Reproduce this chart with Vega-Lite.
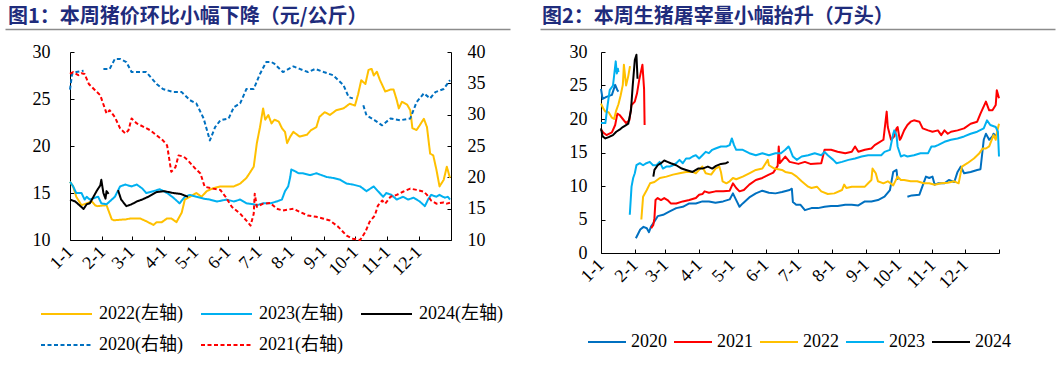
{
 "$schema": "https://vega.github.io/schema/vega-lite/v6.json",
 "background": "white",
 "padding": {"left": 5, "top": 6, "right": 0, "bottom": 0},
 "spacing": -35,
 "resolve": {"scale": {"color": "independent", "strokeDash": "independent", "strokeWidth": "independent"}, "legend": {"color": "independent", "strokeDash": "independent", "strokeWidth": "independent"}},
 "config": {
  "view": {"stroke": null},
  "font": "Liberation Serif",
  "axis": {"grid": false, "title": null, "domainColor": "#000", "domainWidth": 1, "tickColor": "#000", "tickWidth": 1, "tickSize": -4, "labelColor": "#000", "labelFont": "Liberation Serif", "labelFontSize": 18, "labelOverlap": false},
  "legend": {"title": null, "labelFont": "Liberation Serif, Noto Sans CJK SC", "labelFontSize": 18, "labelColor": "#000"},
  "line": {"strokeJoin": "round"}
 },
 "datasets": {
  "price": [
   {"series":"2022(左轴)","day":0,"value":16.2},{"series":"2022(左轴)","day":3,"value":15.7},{"series":"2022(左轴)","day":6,"value":14.6},{"series":"2022(左轴)","day":11,"value":13.7},{"series":"2022(左轴)","day":16,"value":13.9},{"series":"2022(左轴)","day":21,"value":14.1},{"series":"2022(左轴)","day":24,"value":13.7},{"series":"2022(左轴)","day":26,"value":13.6},{"series":"2022(左轴)","day":35,"value":13.7},{"series":"2022(左轴)","day":40,"value":12.2},{"series":"2022(左轴)","day":42,"value":12.1},{"series":"2022(左轴)","day":54,"value":12.2},{"series":"2022(左轴)","day":58,"value":12.3},{"series":"2022(左轴)","day":67,"value":12.3},{"series":"2022(左轴)","day":73,"value":12.0},{"series":"2022(左轴)","day":80,"value":11.6},{"series":"2022(左轴)","day":83,"value":11.9},{"series":"2022(左轴)","day":88,"value":11.9},{"series":"2022(左轴)","day":93,"value":12.3},{"series":"2022(左轴)","day":97,"value":12.3},{"series":"2022(左轴)","day":102,"value":11.9},{"series":"2022(左轴)","day":107,"value":12.9},{"series":"2022(左轴)","day":110,"value":14.3},{"series":"2022(左轴)","day":115,"value":14.6},{"series":"2022(左轴)","day":121,"value":15.0},{"series":"2022(左轴)","day":126,"value":14.6},{"series":"2022(左轴)","day":131,"value":15.2},{"series":"2022(左轴)","day":137,"value":15.5},{"series":"2022(左轴)","day":144,"value":15.7},{"series":"2022(左轴)","day":150,"value":15.7},{"series":"2022(左轴)","day":157,"value":15.7},{"series":"2022(左轴)","day":163,"value":16.0},{"series":"2022(左轴)","day":169,"value":16.6},{"series":"2022(左轴)","day":172,"value":17.1},{"series":"2022(左轴)","day":176,"value":17.8},{"series":"2022(左轴)","day":179,"value":20.3},{"series":"2022(左轴)","day":182,"value":22.0},{"series":"2022(左轴)","day":185,"value":24.0},{"series":"2022(左轴)","day":187,"value":22.8},{"series":"2022(左轴)","day":190,"value":23.3},{"series":"2022(左轴)","day":193,"value":22.4},{"series":"2022(左轴)","day":196,"value":22.8},{"series":"2022(左轴)","day":200,"value":22.6},{"series":"2022(左轴)","day":203,"value":21.9},{"series":"2022(左轴)","day":206,"value":21.5},{"series":"2022(左轴)","day":208,"value":20.3},{"series":"2022(左轴)","day":211,"value":21.0},{"series":"2022(左轴)","day":214,"value":21.5},{"series":"2022(左轴)","day":220,"value":21.0},{"series":"2022(左轴)","day":227,"value":21.2},{"series":"2022(左轴)","day":231,"value":21.7},{"series":"2022(左轴)","day":236,"value":22.0},{"series":"2022(左轴)","day":239,"value":23.1},{"series":"2022(左轴)","day":244,"value":23.6},{"series":"2022(左轴)","day":249,"value":23.3},{"series":"2022(左轴)","day":255,"value":23.8},{"series":"2022(左轴)","day":262,"value":24.0},{"series":"2022(左轴)","day":268,"value":24.5},{"series":"2022(左轴)","day":273,"value":24.3},{"series":"2022(左轴)","day":276,"value":25.5},{"series":"2022(左轴)","day":279,"value":27.0},{"series":"2022(左轴)","day":283,"value":26.6},{"series":"2022(左轴)","day":286,"value":28.1},{"series":"2022(左轴)","day":289,"value":28.2},{"series":"2022(左轴)","day":291,"value":27.5},{"series":"2022(左轴)","day":294,"value":27.9},{"series":"2022(左轴)","day":297,"value":27.0},{"series":"2022(左轴)","day":302,"value":25.8},{"series":"2022(左轴)","day":307,"value":26.0},{"series":"2022(左轴)","day":310,"value":26.0},{"series":"2022(左轴)","day":313,"value":24.9},{"series":"2022(左轴)","day":315,"value":24.0},{"series":"2022(左轴)","day":318,"value":24.7},{"series":"2022(左轴)","day":323,"value":24.4},{"series":"2022(左轴)","day":326,"value":23.8},{"series":"2022(左轴)","day":328,"value":21.9},{"series":"2022(左轴)","day":332,"value":21.7},{"series":"2022(左轴)","day":335,"value":22.2},{"series":"2022(左轴)","day":339,"value":22.9},{"series":"2022(左轴)","day":342,"value":22.0},{"series":"2022(左轴)","day":345,"value":19.2},{"series":"2022(左轴)","day":348,"value":19.0},{"series":"2022(左轴)","day":351,"value":17.5},{"series":"2022(左轴)","day":354,"value":15.7},{"series":"2022(左轴)","day":358,"value":16.4},{"series":"2022(左轴)","day":361,"value":17.8},{"series":"2022(左轴)","day":364,"value":16.6},
   {"series":"2023(左轴)","day":0,"value":16.2},{"series":"2023(左轴)","day":3,"value":15.7},{"series":"2023(左轴)","day":6,"value":15.0},{"series":"2023(左轴)","day":11,"value":15.0},{"series":"2023(左轴)","day":14,"value":14.3},{"series":"2023(左轴)","day":16,"value":14.6},{"series":"2023(左轴)","day":19,"value":14.3},{"series":"2023(左轴)","day":24,"value":14.5},{"series":"2023(左轴)","day":27,"value":14.6},{"series":"2023(左轴)","day":30,"value":13.9},{"series":"2023(左轴)","day":35,"value":13.8},{"series":"2023(左轴)","day":40,"value":14.3},{"series":"2023(左轴)","day":43,"value":14.6},{"series":"2023(左轴)","day":48,"value":15.7},{"series":"2023(左轴)","day":53,"value":15.9},{"series":"2023(左轴)","day":59,"value":15.7},{"series":"2023(左轴)","day":64,"value":15.9},{"series":"2023(左轴)","day":69,"value":15.5},{"series":"2023(左轴)","day":73,"value":15.0},{"series":"2023(左轴)","day":80,"value":15.2},{"series":"2023(左轴)","day":86,"value":15.4},{"series":"2023(左轴)","day":93,"value":15.0},{"series":"2023(左轴)","day":99,"value":14.5},{"series":"2023(左轴)","day":105,"value":13.9},{"series":"2023(左轴)","day":110,"value":14.6},{"series":"2023(左轴)","day":115,"value":14.8},{"series":"2023(左轴)","day":121,"value":14.6},{"series":"2023(左轴)","day":128,"value":14.4},{"series":"2023(左轴)","day":134,"value":14.3},{"series":"2023(左轴)","day":141,"value":14.1},{"series":"2023(左轴)","day":150,"value":14.3},{"series":"2023(左轴)","day":157,"value":14.1},{"series":"2023(左轴)","day":163,"value":14.3},{"series":"2023(左轴)","day":169,"value":13.9},{"series":"2023(左轴)","day":176,"value":13.8},{"series":"2023(左轴)","day":179,"value":13.7},{"series":"2023(左轴)","day":185,"value":13.9},{"series":"2023(左轴)","day":192,"value":13.9},{"series":"2023(左轴)","day":198,"value":14.1},{"series":"2023(左轴)","day":203,"value":14.3},{"series":"2023(左轴)","day":206,"value":15.2},{"series":"2023(左轴)","day":209,"value":15.7},{"series":"2023(左轴)","day":211,"value":16.7},{"series":"2023(左轴)","day":212,"value":17.5},{"series":"2023(左轴)","day":216,"value":17.3},{"series":"2023(左轴)","day":219,"value":17.1},{"series":"2023(左轴)","day":223,"value":17.1},{"series":"2023(左轴)","day":230,"value":16.9},{"series":"2023(左轴)","day":236,"value":17.1},{"series":"2023(左轴)","day":241,"value":16.9},{"series":"2023(左轴)","day":246,"value":16.7},{"series":"2023(左轴)","day":252,"value":16.6},{"series":"2023(左轴)","day":259,"value":16.4},{"series":"2023(左轴)","day":265,"value":16.0},{"series":"2023(左轴)","day":271,"value":15.9},{"series":"2023(左轴)","day":278,"value":15.7},{"series":"2023(左轴)","day":284,"value":15.2},{"series":"2023(左轴)","day":291,"value":15.7},{"series":"2023(左轴)","day":295,"value":15.2},{"series":"2023(左轴)","day":300,"value":14.6},{"series":"2023(左轴)","day":303,"value":15.0},{"series":"2023(左轴)","day":308,"value":14.8},{"series":"2023(左轴)","day":313,"value":14.3},{"series":"2023(左轴)","day":319,"value":14.6},{"series":"2023(左轴)","day":324,"value":14.3},{"series":"2023(左轴)","day":329,"value":14.5},{"series":"2023(左轴)","day":335,"value":14.1},{"series":"2023(左轴)","day":340,"value":13.6},{"series":"2023(左轴)","day":343,"value":14.3},{"series":"2023(左轴)","day":346,"value":14.8},{"series":"2023(左轴)","day":351,"value":14.6},{"series":"2023(左轴)","day":354,"value":14.8},{"series":"2023(左轴)","day":359,"value":14.5},{"series":"2023(左轴)","day":362,"value":14.6},{"series":"2023(左轴)","day":364,"value":14.3},
   {"series":"2024(左轴)","day":0,"value":14.3},{"series":"2024(左轴)","day":5,"value":14.1},{"series":"2024(左轴)","day":10,"value":13.6},{"series":"2024(左轴)","day":13,"value":13.3},{"series":"2024(左轴)","day":16,"value":13.8},{"series":"2024(左轴)","day":19,"value":13.9},{"series":"2024(左轴)","day":22,"value":14.5},{"series":"2024(左轴)","day":26,"value":15.3},{"series":"2024(左轴)","day":29,"value":15.8},{"series":"2024(左轴)","day":30,"value":16.4},{"series":"2024(左轴)","day":32,"value":15.0},{"series":"2024(左轴)","day":34,"value":14.4},{"series":"2024(左轴)","day":35,"value":15.2},{"series":"2024(左轴)","day":37,"value":14.9},{"series":"2024(左轴)","day":41,"value":null},{"series":"2024(左轴)","day":46,"value":15.3},{"series":"2024(左轴)","day":49,"value":14.3},{"series":"2024(左轴)","day":54,"value":13.6},{"series":"2024(左轴)","day":59,"value":13.8},{"series":"2024(左轴)","day":64,"value":14.1},{"series":"2024(左轴)","day":69,"value":14.3},{"series":"2024(左轴)","day":75,"value":14.6},{"series":"2024(左轴)","day":83,"value":15.1},{"series":"2024(左轴)","day":90,"value":15.2},{"series":"2024(左轴)","day":99,"value":15.0},{"series":"2024(左轴)","day":106,"value":14.9},{"series":"2024(左轴)","day":113,"value":14.6},
   {"series":"2020(右轴)","day":0,"value":34.0},{"series":"2020(右轴)","day":2,"value":36.5},{"series":"2020(右轴)","day":6,"value":36.8},{"series":"2020(右轴)","day":13,"value":37.0},{"series":"2020(右轴)","day":22,"value":null},{"series":"2020(右轴)","day":32,"value":37.3},{"series":"2020(右轴)","day":38,"value":37.3},{"series":"2020(右轴)","day":43,"value":38.9},{"series":"2020(右轴)","day":48,"value":38.9},{"series":"2020(右轴)","day":54,"value":38.4},{"series":"2020(右轴)","day":59,"value":36.8},{"series":"2020(右轴)","day":64,"value":36.8},{"series":"2020(右轴)","day":73,"value":36.8},{"series":"2020(右轴)","day":83,"value":34.9},{"series":"2020(右轴)","day":89,"value":34.1},{"series":"2020(右轴)","day":99,"value":33.6},{"series":"2020(右轴)","day":107,"value":33.6},{"series":"2020(右轴)","day":115,"value":32.3},{"series":"2020(右轴)","day":121,"value":31.8},{"series":"2020(右轴)","day":128,"value":29.4},{"series":"2020(右轴)","day":134,"value":25.9},{"series":"2020(右轴)","day":139,"value":28.0},{"series":"2020(右轴)","day":144,"value":29.1},{"series":"2020(右轴)","day":152,"value":29.4},{"series":"2020(右轴)","day":157,"value":31.2},{"series":"2020(右轴)","day":163,"value":31.8},{"series":"2020(右轴)","day":169,"value":34.1},{"series":"2020(右轴)","day":176,"value":34.1},{"series":"2020(右轴)","day":182,"value":36.5},{"series":"2020(右轴)","day":188,"value":38.4},{"series":"2020(右轴)","day":193,"value":38.4},{"series":"2020(右轴)","day":196,"value":38.1},{"series":"2020(右轴)","day":204,"value":36.8},{"series":"2020(右轴)","day":214,"value":37.7},{"series":"2020(右轴)","day":220,"value":37.3},{"series":"2020(右轴)","day":228,"value":36.8},{"series":"2020(右轴)","day":235,"value":37.3},{"series":"2020(右轴)","day":243,"value":36.8},{"series":"2020(右轴)","day":252,"value":36.3},{"series":"2020(右轴)","day":262,"value":34.7},{"series":"2020(右轴)","day":267,"value":32.8},{"series":"2020(右轴)","day":271,"value":32.6},{"series":"2020(右轴)","day":276,"value":null},{"series":"2020(右轴)","day":281,"value":31.5},{"series":"2020(右轴)","day":284,"value":29.9},{"series":"2020(右轴)","day":292,"value":29.1},{"series":"2020(右轴)","day":299,"value":28.3},{"series":"2020(右轴)","day":307,"value":29.4},{"series":"2020(右轴)","day":316,"value":29.1},{"series":"2020(右轴)","day":326,"value":29.4},{"series":"2020(右轴)","day":332,"value":32.0},{"series":"2020(右轴)","day":339,"value":33.4},{"series":"2020(右轴)","day":345,"value":32.6},{"series":"2020(右轴)","day":350,"value":33.6},{"series":"2020(右轴)","day":358,"value":34.1},{"series":"2020(右轴)","day":364,"value":35.5},
   {"series":"2021(右轴)","day":0,"value":36.5},{"series":"2021(右轴)","day":3,"value":36.8},{"series":"2021(右轴)","day":8,"value":36.3},{"series":"2021(右轴)","day":11,"value":36.6},{"series":"2021(右轴)","day":14,"value":36.5},{"series":"2021(右轴)","day":18,"value":34.9},{"series":"2021(右轴)","day":24,"value":33.9},{"series":"2021(右轴)","day":29,"value":33.1},{"series":"2021(右轴)","day":35,"value":30.2},{"series":"2021(右轴)","day":38,"value":30.7},{"series":"2021(右轴)","day":43,"value":29.6},{"series":"2021(右轴)","day":48,"value":27.8},{"series":"2021(右轴)","day":53,"value":27.0},{"series":"2021(右轴)","day":56,"value":27.5},{"series":"2021(右轴)","day":59,"value":29.4},{"series":"2021(右轴)","day":64,"value":28.6},{"series":"2021(右轴)","day":70,"value":28.1},{"series":"2021(右轴)","day":77,"value":27.5},{"series":"2021(右轴)","day":83,"value":26.7},{"series":"2021(右轴)","day":89,"value":25.9},{"series":"2021(右轴)","day":93,"value":25.1},{"series":"2021(右轴)","day":97,"value":20.9},{"series":"2021(右轴)","day":101,"value":21.6},{"series":"2021(右轴)","day":104,"value":23.5},{"series":"2021(右轴)","day":109,"value":23.3},{"series":"2021(右轴)","day":113,"value":22.7},{"series":"2021(右轴)","day":120,"value":21.4},{"series":"2021(右轴)","day":125,"value":20.6},{"series":"2021(右轴)","day":129,"value":18.5},{"series":"2021(右轴)","day":137,"value":18.2},{"series":"2021(右轴)","day":144,"value":18.0},{"series":"2021(右轴)","day":149,"value":16.9},{"series":"2021(右轴)","day":155,"value":15.3},{"series":"2021(右轴)","day":163,"value":14.2},{"series":"2021(右轴)","day":169,"value":13.1},{"series":"2021(右轴)","day":173,"value":12.3},{"series":"2021(右轴)","day":176,"value":14.2},{"series":"2021(右轴)","day":177,"value":17.4},{"series":"2021(右轴)","day":179,"value":15.3},{"series":"2021(右轴)","day":185,"value":15.8},{"series":"2021(右轴)","day":192,"value":15.9},{"series":"2021(右轴)","day":198,"value":15.0},{"series":"2021(右轴)","day":204,"value":14.7},{"series":"2021(右轴)","day":214,"value":15.0},{"series":"2021(右轴)","day":220,"value":14.5},{"series":"2021(右轴)","day":228,"value":13.9},{"series":"2021(右轴)","day":236,"value":13.7},{"series":"2021(右轴)","day":243,"value":13.4},{"series":"2021(右轴)","day":249,"value":13.1},{"series":"2021(右轴)","day":257,"value":12.1},{"series":"2021(右轴)","day":265,"value":10.7},{"series":"2021(右轴)","day":271,"value":10.2},{"series":"2021(右轴)","day":278,"value":10.0},{"series":"2021(右轴)","day":283,"value":11.3},{"series":"2021(右轴)","day":287,"value":12.9},{"series":"2021(右轴)","day":292,"value":13.9},{"series":"2021(右轴)","day":295,"value":15.5},{"series":"2021(右轴)","day":299,"value":16.3},{"series":"2021(右轴)","day":302,"value":15.8},{"series":"2021(右轴)","day":307,"value":16.9},{"series":"2021(右轴)","day":313,"value":17.2},{"series":"2021(右轴)","day":319,"value":17.7},{"series":"2021(右轴)","day":326,"value":18.2},{"series":"2021(右轴)","day":332,"value":18.0},{"series":"2021(右轴)","day":339,"value":17.7},{"series":"2021(右轴)","day":342,"value":17.2},{"series":"2021(右轴)","day":346,"value":16.3},{"series":"2021(右轴)","day":351,"value":15.8},{"series":"2021(右轴)","day":358,"value":16.0},{"series":"2021(右轴)","day":361,"value":15.8},{"series":"2021(右轴)","day":365,"value":16.0}
  ],
  "slaughter": [
   {"series":"2020","day":0,"value":24.5},{"series":"2020","day":1.5,"value":23.0},{"series":"2020","day":5,"value":23.3},{"series":"2020","day":10,"value":23.6},{"series":"2020","day":13,"value":25.1},{"series":"2020","day":15,"value":24.3},{"series":"2020","day":16,"value":24.1},{"series":"2020","day":24,"value":null},{"series":"2020","day":32,"value":2.2},{"series":"2020","day":36,"value":3.5},{"series":"2020","day":39,"value":3.9},{"series":"2020","day":42,"value":3.7},{"series":"2020","day":44,"value":3.1},{"series":"2020","day":46,"value":4.0},{"series":"2020","day":49,"value":4.7},{"series":"2020","day":52,"value":5.5},{"series":"2020","day":57,"value":5.7},{"series":"2020","day":63,"value":6.2},{"series":"2020","day":69,"value":6.7},{"series":"2020","day":75,"value":6.9},{"series":"2020","day":81,"value":7.4},{"series":"2020","day":87,"value":7.4},{"series":"2020","day":93,"value":7.7},{"series":"2020","day":99,"value":7.7},{"series":"2020","day":105,"value":7.5},{"series":"2020","day":112,"value":7.7},{"series":"2020","day":118,"value":8.0},{"series":"2020","day":121,"value":8.9},{"series":"2020","day":124,"value":7.9},{"series":"2020","day":127,"value":6.9},{"series":"2020","day":130,"value":7.4},{"series":"2020","day":136,"value":8.3},{"series":"2020","day":142,"value":8.9},{"series":"2020","day":148,"value":9.3},{"series":"2020","day":154,"value":9.0},{"series":"2020","day":160,"value":8.9},{"series":"2020","day":166,"value":9.1},{"series":"2020","day":173,"value":9.4},{"series":"2020","day":175,"value":9.6},{"series":"2020","day":176,"value":7.6},{"series":"2020","day":179,"value":7.2},{"series":"2020","day":183,"value":7.2},{"series":"2020","day":187,"value":6.4},{"series":"2020","day":193,"value":6.7},{"series":"2020","day":199,"value":6.7},{"series":"2020","day":205,"value":6.9},{"series":"2020","day":211,"value":7.0},{"series":"2020","day":217,"value":7.0},{"series":"2020","day":224,"value":7.2},{"series":"2020","day":230,"value":7.2},{"series":"2020","day":236,"value":7.1},{"series":"2020","day":242,"value":7.7},{"series":"2020","day":248,"value":7.7},{"series":"2020","day":254,"value":7.9},{"series":"2020","day":260,"value":8.4},{"series":"2020","day":265,"value":9.4},{"series":"2020","day":268,"value":12.1},{"series":"2020","day":271,"value":12.4},{"series":"2020","day":272,"value":10.9},{"series":"2020","day":276,"value":null},{"series":"2020","day":281,"value":8.4},{"series":"2020","day":285,"value":8.6},{"series":"2020","day":292,"value":8.7},{"series":"2020","day":298,"value":11.4},{"series":"2020","day":301,"value":11.2},{"series":"2020","day":304,"value":11.4},{"series":"2020","day":306,"value":10.2},{"series":"2020","day":309,"value":10.4},{"series":"2020","day":315,"value":10.4},{"series":"2020","day":319,"value":10.9},{"series":"2020","day":324,"value":10.6},{"series":"2020","day":327,"value":12.1},{"series":"2020","day":330,"value":12.9},{"series":"2020","day":333,"value":11.9},{"series":"2020","day":339,"value":12.1},{"series":"2020","day":345,"value":12.4},{"series":"2020","day":348,"value":12.5},{"series":"2020","day":351,"value":16.9},{"series":"2020","day":353,"value":17.8},{"series":"2020","day":356,"value":16.9},{"series":"2020","day":359,"value":17.4},{"series":"2020","day":360,"value":17.8},{"series":"2020","day":363,"value":17.4},
   {"series":"2021","day":0,"value":18.4},{"series":"2021","day":2,"value":18.0},{"series":"2021","day":5,"value":17.6},{"series":"2021","day":10,"value":18.0},{"series":"2021","day":13,"value":19.1},{"series":"2021","day":15,"value":20.8},{"series":"2021","day":17,"value":20.6},{"series":"2021","day":20,"value":20.0},{"series":"2021","day":23,"value":19.4},{"series":"2021","day":26,"value":19.8},{"series":"2021","day":28,"value":22.1},{"series":"2021","day":31,"value":22.6},{"series":"2021","day":33,"value":23.8},{"series":"2021","day":35,"value":25.8},{"series":"2021","day":38,"value":28.1},{"series":"2021","day":39.5,"value":24.5},{"series":"2021","day":40,"value":19.1},{"series":"2021","day":43,"value":null},{"series":"2021","day":46,"value":3.7},{"series":"2021","day":48,"value":4.2},{"series":"2021","day":49,"value":5.2},{"series":"2021","day":50,"value":7.9},{"series":"2021","day":52,"value":8.2},{"series":"2021","day":55,"value":7.9},{"series":"2021","day":58,"value":8.2},{"series":"2021","day":61,"value":7.9},{"series":"2021","day":64,"value":7.4},{"series":"2021","day":69,"value":7.4},{"series":"2021","day":75,"value":7.7},{"series":"2021","day":81,"value":7.9},{"series":"2021","day":87,"value":8.2},{"series":"2021","day":90,"value":8.7},{"series":"2021","day":93,"value":8.8},{"series":"2021","day":95,"value":9.2},{"series":"2021","day":99,"value":9.0},{"series":"2021","day":105,"value":9.2},{"series":"2021","day":112,"value":9.2},{"series":"2021","day":118,"value":9.3},{"series":"2021","day":121,"value":10.4},{"series":"2021","day":124,"value":9.7},{"series":"2021","day":127,"value":9.2},{"series":"2021","day":131,"value":9.4},{"series":"2021","day":136,"value":10.2},{"series":"2021","day":142,"value":10.9},{"series":"2021","day":148,"value":11.2},{"series":"2021","day":154,"value":11.7},{"series":"2021","day":158,"value":12.0},{"series":"2021","day":162,"value":13.0},{"series":"2021","day":163,"value":15.9},{"series":"2021","day":164,"value":13.4},{"series":"2021","day":169,"value":14.4},{"series":"2021","day":173,"value":13.6},{"series":"2021","day":181,"value":13.3},{"series":"2021","day":187,"value":13.6},{"series":"2021","day":192,"value":13.3},{"series":"2021","day":202,"value":13.4},{"series":"2021","day":205,"value":15.4},{"series":"2021","day":211,"value":15.4},{"series":"2021","day":217,"value":15.1},{"series":"2021","day":224,"value":14.9},{"series":"2021","day":230,"value":15.1},{"series":"2021","day":233,"value":15.9},{"series":"2021","day":236,"value":15.1},{"series":"2021","day":242,"value":15.4},{"series":"2021","day":248,"value":15.6},{"series":"2021","day":251,"value":16.1},{"series":"2021","day":254,"value":16.4},{"series":"2021","day":259,"value":16.9},{"series":"2021","day":260,"value":18.3},{"series":"2021","day":262,"value":21.1},{"series":"2021","day":263,"value":18.8},{"series":"2021","day":266,"value":16.9},{"series":"2021","day":269,"value":17.4},{"series":"2021","day":271,"value":18.6},{"series":"2021","day":272,"value":18.8},{"series":"2021","day":274,"value":16.9},{"series":"2021","day":275,"value":17.1},{"series":"2021","day":278,"value":18.3},{"series":"2021","day":281,"value":19.1},{"series":"2021","day":284,"value":19.6},{"series":"2021","day":287,"value":19.8},{"series":"2021","day":292,"value":19.6},{"series":"2021","day":295,"value":18.6},{"series":"2021","day":300,"value":18.3},{"series":"2021","day":304,"value":18.1},{"series":"2021","day":309,"value":18.3},{"series":"2021","day":312,"value":17.6},{"series":"2021","day":315,"value":18.3},{"series":"2021","day":318,"value":17.8},{"series":"2021","day":321,"value":18.1},{"series":"2021","day":327,"value":18.3},{"series":"2021","day":333,"value":18.6},{"series":"2021","day":339,"value":19.3},{"series":"2021","day":345,"value":19.6},{"series":"2021","day":348,"value":20.8},{"series":"2021","day":353,"value":22.6},{"series":"2021","day":356,"value":21.3},{"series":"2021","day":359,"value":21.3},{"series":"2021","day":362,"value":22.1},{"series":"2021","day":363,"value":24.3},{"series":"2021","day":365,"value":23.1},
   {"series":"2022","day":0,"value":22.3},{"series":"2022","day":2,"value":21.6},{"series":"2022","day":4,"value":21.1},{"series":"2022","day":7,"value":21.0},{"series":"2022","day":10,"value":20.2},{"series":"2022","day":12,"value":20.0},{"series":"2022","day":14,"value":21.3},{"series":"2022","day":16,"value":22.2},{"series":"2022","day":18,"value":23.5},{"series":"2022","day":20,"value":25.1},{"series":"2022","day":21,"value":28.1},{"series":"2022","day":23,"value":25.0},{"series":"2022","day":25,"value":26.4},{"series":"2022","day":26.6,"value":27.9},{"series":"2022","day":31,"value":null},{"series":"2022","day":37,"value":5.0},{"series":"2022","day":38.6,"value":8.4},{"series":"2022","day":42,"value":9.4},{"series":"2022","day":45,"value":10.4},{"series":"2022","day":49,"value":10.6},{"series":"2022","day":54,"value":11.2},{"series":"2022","day":60,"value":11.4},{"series":"2022","day":66,"value":11.7},{"series":"2022","day":72,"value":11.9},{"series":"2022","day":78,"value":12.1},{"series":"2022","day":84,"value":12.1},{"series":"2022","day":87,"value":11.9},{"series":"2022","day":90,"value":12.4},{"series":"2022","day":93,"value":12.9},{"series":"2022","day":96,"value":11.9},{"series":"2022","day":101,"value":11.7},{"series":"2022","day":105,"value":12.6},{"series":"2022","day":108.5,"value":12.9},{"series":"2022","day":110,"value":12.1},{"series":"2022","day":111.5,"value":10.7},{"series":"2022","day":115,"value":10.4},{"series":"2022","day":118,"value":10.7},{"series":"2022","day":121,"value":11.2},{"series":"2022","day":124,"value":11.0},{"series":"2022","day":130,"value":11.4},{"series":"2022","day":136,"value":11.9},{"series":"2022","day":142,"value":12.4},{"series":"2022","day":148,"value":12.6},{"series":"2022","day":153,"value":13.9},{"series":"2022","day":154,"value":13.1},{"series":"2022","day":159,"value":12.6},{"series":"2022","day":166,"value":12.4},{"series":"2022","day":169,"value":12.1},{"series":"2022","day":175,"value":11.9},{"series":"2022","day":179.5,"value":11.4},{"series":"2022","day":184,"value":10.7},{"series":"2022","day":190,"value":9.9},{"series":"2022","day":193,"value":9.7},{"series":"2022","day":198,"value":9.9},{"series":"2022","day":202,"value":9.2},{"series":"2022","day":208,"value":8.8},{"series":"2022","day":214,"value":8.9},{"series":"2022","day":221,"value":9.4},{"series":"2022","day":223,"value":10.2},{"series":"2022","day":225,"value":9.7},{"series":"2022","day":230,"value":9.9},{"series":"2022","day":236,"value":9.9},{"series":"2022","day":242,"value":9.9},{"series":"2022","day":245,"value":10.4},{"series":"2022","day":248,"value":10.9},{"series":"2022","day":249,"value":12.6},{"series":"2022","day":252,"value":11.9},{"series":"2022","day":254,"value":10.7},{"series":"2022","day":259,"value":10.4},{"series":"2022","day":263,"value":10.7},{"series":"2022","day":268,"value":10.1},{"series":"2022","day":272,"value":11.4},{"series":"2022","day":275,"value":10.9},{"series":"2022","day":278,"value":10.9},{"series":"2022","day":284,"value":10.7},{"series":"2022","day":290,"value":10.7},{"series":"2022","day":296,"value":10.4},{"series":"2022","day":301,"value":10.4},{"series":"2022","day":306,"value":10.2},{"series":"2022","day":312,"value":10.4},{"series":"2022","day":318,"value":10.5},{"series":"2022","day":324,"value":10.7},{"series":"2022","day":328,"value":10.4},{"series":"2022","day":331,"value":12.9},{"series":"2022","day":336,"value":13.4},{"series":"2022","day":342,"value":14.1},{"series":"2022","day":347,"value":14.9},{"series":"2022","day":350,"value":15.6},{"series":"2022","day":353,"value":15.6},{"series":"2022","day":356,"value":15.9},{"series":"2022","day":360,"value":17.6},{"series":"2022","day":362,"value":16.9},{"series":"2022","day":363,"value":17.9},{"series":"2022","day":365,"value":19.3},
   {"series":"2023","day":0,"value":19.4},{"series":"2023","day":4,"value":19.4},{"series":"2023","day":6,"value":22.0},{"series":"2023","day":8,"value":24.3},{"series":"2023","day":11,"value":25.0},{"series":"2023","day":13.5,"value":28.6},{"series":"2023","day":14.5,"value":26.8},{"series":"2023","day":15.5,"value":27.5},{"series":"2023","day":16,"value":27.0},{"series":"2023","day":20,"value":null},{"series":"2023","day":26.4,"value":5.7},{"series":"2023","day":28,"value":9.9},{"series":"2023","day":29.5,"value":11.2},{"series":"2023","day":31,"value":11.9},{"series":"2023","day":32.5,"value":13.1},{"series":"2023","day":35.6,"value":13.4},{"series":"2023","day":38.6,"value":13.1},{"series":"2023","day":41.6,"value":13.4},{"series":"2023","day":44.7,"value":13.6},{"series":"2023","day":47.7,"value":13.1},{"series":"2023","day":50.8,"value":13.1},{"series":"2023","day":53.8,"value":13.6},{"series":"2023","day":56.8,"value":12.6},{"series":"2023","day":59.9,"value":12.9},{"series":"2023","day":63,"value":12.9},{"series":"2023","day":66,"value":13.1},{"series":"2023","day":69,"value":13.4},{"series":"2023","day":72,"value":13.9},{"series":"2023","day":75,"value":13.4},{"series":"2023","day":78,"value":14.1},{"series":"2023","day":81,"value":14.1},{"series":"2023","day":84,"value":14.4},{"series":"2023","day":87,"value":14.6},{"series":"2023","day":90,"value":14.1},{"series":"2023","day":93,"value":14.6},{"series":"2023","day":96,"value":15.1},{"series":"2023","day":99,"value":14.9},{"series":"2023","day":102,"value":15.4},{"series":"2023","day":105,"value":15.6},{"series":"2023","day":110,"value":15.9},{"series":"2023","day":115,"value":15.9},{"series":"2023","day":118,"value":16.1},{"series":"2023","day":120,"value":17.1},{"series":"2023","day":122,"value":16.1},{"series":"2023","day":124,"value":15.4},{"series":"2023","day":130,"value":15.4},{"series":"2023","day":136,"value":14.9},{"series":"2023","day":142,"value":14.6},{"series":"2023","day":148,"value":14.9},{"series":"2023","day":154,"value":14.6},{"series":"2023","day":160,"value":14.9},{"series":"2023","day":165,"value":14.9},{"series":"2023","day":169,"value":15.4},{"series":"2023","day":172,"value":15.9},{"series":"2023","day":173,"value":15.6},{"series":"2023","day":176,"value":14.4},{"series":"2023","day":179.5,"value":13.9},{"series":"2023","day":184,"value":14.4},{"series":"2023","day":190,"value":14.6},{"series":"2023","day":196,"value":14.9},{"series":"2023","day":202,"value":14.6},{"series":"2023","day":205,"value":15.1},{"series":"2023","day":208,"value":14.6},{"series":"2023","day":213,"value":13.9},{"series":"2023","day":216,"value":13.4},{"series":"2023","day":221,"value":13.6},{"series":"2023","day":227,"value":13.9},{"series":"2023","day":233,"value":14.1},{"series":"2023","day":239,"value":14.4},{"series":"2023","day":245,"value":14.6},{"series":"2023","day":251,"value":14.6},{"series":"2023","day":257,"value":14.6},{"series":"2023","day":260,"value":15.1},{"series":"2023","day":265,"value":15.4},{"series":"2023","day":268,"value":17.8},{"series":"2023","day":269,"value":18.3},{"series":"2023","day":271,"value":17.6},{"series":"2023","day":272,"value":15.9},{"series":"2023","day":275,"value":14.4},{"series":"2023","day":278,"value":14.6},{"series":"2023","day":281,"value":14.4},{"series":"2023","day":287,"value":14.6},{"series":"2023","day":293,"value":14.9},{"series":"2023","day":300,"value":14.9},{"series":"2023","day":303,"value":15.9},{"series":"2023","day":306,"value":15.9},{"series":"2023","day":309,"value":16.1},{"series":"2023","day":315,"value":16.6},{"series":"2023","day":321,"value":16.9},{"series":"2023","day":327,"value":17.1},{"series":"2023","day":333,"value":17.4},{"series":"2023","day":339,"value":17.8},{"series":"2023","day":345,"value":18.1},{"series":"2023","day":351,"value":18.6},{"series":"2023","day":354,"value":19.8},{"series":"2023","day":357,"value":19.1},{"series":"2023","day":362,"value":18.8},{"series":"2023","day":364,"value":18.1},{"series":"2023","day":365,"value":14.4},
   {"series":"2024","day":0,"value":18.6},{"series":"2024","day":1.5,"value":17.4},{"series":"2024","day":4,"value":17.1},{"series":"2024","day":7,"value":17.3},{"series":"2024","day":11,"value":17.6},{"series":"2024","day":14,"value":18.1},{"series":"2024","day":17,"value":18.4},{"series":"2024","day":20,"value":18.8},{"series":"2024","day":23,"value":19.1},{"series":"2024","day":25,"value":19.3},{"series":"2024","day":27.5,"value":21.3},{"series":"2024","day":29,"value":24.8},{"series":"2024","day":31,"value":28.8},{"series":"2024","day":32.5,"value":29.6},{"series":"2024","day":33.5,"value":26.0},{"series":"2024","day":40,"value":null},{"series":"2024","day":48,"value":11.4},{"series":"2024","day":49,"value":12.4},{"series":"2024","day":52,"value":13.1},{"series":"2024","day":55,"value":13.4},{"series":"2024","day":58,"value":13.8},{"series":"2024","day":61,"value":13.6},{"series":"2024","day":64,"value":13.4},{"series":"2024","day":69,"value":13.1},{"series":"2024","day":74,"value":12.6},{"series":"2024","day":78,"value":12.4},{"series":"2024","day":84,"value":12.1},{"series":"2024","day":89,"value":12.6},{"series":"2024","day":93,"value":12.6},{"series":"2024","day":98,"value":12.9},{"series":"2024","day":102,"value":12.6},{"series":"2024","day":105.5,"value":13.0},{"series":"2024","day":110,"value":13.3},{"series":"2024","day":114.6,"value":13.4},{"series":"2024","day":117,"value":13.6}
  ]
 },
 "hconcat": [
  {
   "columns": 1, "spacing": 9,
   "concat": [
    {
     "width": 440, "height": 1,
     "title": {"text": "图1：本周猪价环比小幅下降（元/公斤）", "anchor": "start", "frame": "bounds", "font": "Noto Sans CJK SC", "fontSize": 20, "fontWeight": "bold", "color": "#1f2c7c", "offset": -4, "dx": 3},
     "data": {"values": [{"t": ""}]},
     "mark": {"type": "text"},
     "encoding": {
      "x": {"datum": 0, "type": "quantitative", "scale": {"domain": [0, 1], "range": [-65, 440]}, "axis": {"orient": "bottom", "domainColor": "#8c8c8c", "domainWidth": 1.5, "ticks": false, "labels": false}},
      "text": {"field": "t"}
     }
    },
    {
     "width": 381, "height": 188,
     "data": {"name": "price"},
     "encoding": {
      "x": {"field": "day", "type": "quantitative", "scale": {"domain": [0, 365], "nice": false, "zero": false},
            "axis": {"values": [0,31,59,90,120,151,181,212,243,273,304,334,365], "labelExpr": "datum.value >= 365 ? '' : (indexof([0,31,59,90,120,151,181,212,243,273,304,334], datum.value) + 1) + '-1'", "labelAngle": -45, "labelAlign": "right", "labelBaseline": "middle", "labelPadding": 13}},
      "color": {"field": "series", "type": "nominal",
                "scale": {"domain": ["2022(左轴)","2023(左轴)","2024(左轴)","2020(右轴)","2021(右轴)"], "range": ["#FFC000","#00B0F0","#000000","#0070C0","#FF0000"]},
                "legend": {"orient": "none", "legendX": -30, "legendY": 275, "columns": 3, "direction": "horizontal", "symbolType": "M-1,0H4.1", "symbolSize": 400, "columnPadding": 17, "rowPadding": 11, "labelOffset": 37}},
      "strokeDash": {"field": "series", "type": "nominal",
                "scale": {"domain": ["2022(左轴)","2023(左轴)","2024(左轴)","2020(右轴)","2021(右轴)"], "range": [[1,0],[1,0],[1,0],[4,2.5],[4,2.5]]},
                "legend": {"orient": "none", "legendX": -30, "legendY": 275, "columns": 3, "direction": "horizontal", "symbolType": "M-1,0H4.1", "symbolSize": 400, "columnPadding": 17, "rowPadding": 11, "labelOffset": 37}},
      "strokeWidth": {"field": "series", "type": "nominal",
                "scale": {"domain": ["2022(左轴)","2023(左轴)","2024(左轴)","2020(右轴)","2021(右轴)"], "range": [2,2,3.5,2,2]},
                "legend": {"orient": "none", "legendX": -30, "legendY": 275, "columns": 3, "direction": "horizontal", "symbolType": "M-1,0H4.1", "symbolSize": 400, "columnPadding": 17, "rowPadding": 11, "labelOffset": 37}}
     },
     "layer": [
      {
       "transform": [{"filter": "indexof(['2022(左轴)','2023(左轴)','2024(左轴)'], datum.series) >= 0"}],
       "mark": {"type": "line"},
       "encoding": {"y": {"field": "value", "type": "quantitative", "scale": {"domain": [10, 30], "nice": false, "zero": false},
                          "axis": {"orient": "left", "values": [10,15,20,25,30], "minExtent": 65, "labelPadding": 24}}}
      },
      {
       "transform": [{"filter": "indexof(['2020(右轴)','2021(右轴)'], datum.series) >= 0"}],
       "mark": {"type": "line"},
       "encoding": {"y": {"field": "value", "type": "quantitative", "scale": {"domain": [10, 40], "nice": false, "zero": false},
                          "axis": {"orient": "right", "values": [10,15,20,25,30,35,40], "labelPadding": 20}}}
      }
     ],
     "resolve": {"scale": {"y": "independent"}}
    },
    {
     "width": 440, "height": 99,
     "title": {"text": "数据来源：涌益咨询、开源证券研究所", "orient": "bottom", "anchor": "start", "frame": "bounds", "font": "Noto Sans CJK SC", "fontSize": 17.5, "fontWeight": "normal", "color": "#333333", "offset": 6, "dx": 2},
     "data": {"values": [{"t": ""}]},
     "mark": {"type": "text"},
     "encoding": {
      "x": {"datum": 0, "type": "quantitative", "scale": {"domain": [0, 1], "range": [-65, 440]}, "axis": {"orient": "bottom", "domainColor": "#8c8c8c", "domainWidth": 1.5, "ticks": false, "labels": false}},
      "text": {"field": "t"}
     }
    }
   ]
  },
  {
   "columns": 1, "spacing": 9,
   "concat": [
    {
     "width": 454, "height": 1,
     "title": {"text": "图2：本周生猪屠宰量小幅抬升（万头）", "anchor": "start", "frame": "bounds", "font": "Noto Sans CJK SC", "fontSize": 20, "fontWeight": "bold", "color": "#1f2c7c", "offset": -4, "dx": 2},
     "data": {"values": [{"t": ""}]},
     "mark": {"type": "text"},
     "encoding": {
      "x": {"datum": 0, "type": "quantitative", "scale": {"domain": [0, 1], "range": [-61, 454]}, "axis": {"orient": "bottom", "domainColor": "#8c8c8c", "domainWidth": 1.5, "ticks": false, "labels": false}},
      "text": {"field": "t"}
     }
    },
    {
     "width": 398, "height": 201,
     "data": {"name": "slaughter"},
     "mark": {"type": "line"},
     "encoding": {
      "x": {"field": "day", "type": "quantitative", "scale": {"domain": [0, 365], "nice": false, "zero": false},
            "axis": {"values": [0,31,59,90,120,151,181,212,243,273,304,334,365], "labelExpr": "datum.value >= 365 ? '' : (indexof([0,31,59,90,120,151,181,212,243,273,304,334], datum.value) + 1) + '-1'", "labelAngle": -45, "labelAlign": "right", "labelBaseline": "middle", "labelPadding": 13}},
      "y": {"field": "value", "type": "quantitative", "scale": {"domain": [0, 30], "nice": false, "zero": false},
            "axis": {"values": [0,5,10,15,20,25,30], "minExtent": 61, "labelPadding": 18}},
      "color": {"field": "series", "type": "nominal",
                "scale": {"domain": ["2020","2021","2022","2023","2024"], "range": ["#0070C0","#FF0000","#FFC000","#00B0F0","#000000"]},
                "legend": {"orient": "none", "legendX": -14, "legendY": 303, "columns": 5, "direction": "horizontal", "symbolType": "M-1,0H2.8", "symbolSize": 400, "columnPadding": 6, "labelOffset": 22}},
      "strokeWidth": {"field": "series", "type": "nominal",
                "scale": {"domain": ["2020","2021","2022","2023","2024"], "range": [2,2,2,2,3.5]},
                "legend": {"orient": "none", "legendX": -14, "legendY": 303, "columns": 5, "direction": "horizontal", "symbolType": "M-1,0H2.8", "symbolSize": 400, "columnPadding": 6, "labelOffset": 22}}
     }
    },
    {
     "width": 454, "height": 86,
     "title": {"text": "数据来源：涌益咨询、开源证券研究所", "orient": "bottom", "anchor": "start", "frame": "bounds", "font": "Noto Sans CJK SC", "fontSize": 17.5, "fontWeight": "normal", "color": "#333333", "offset": 6, "dx": 2},
     "data": {"values": [{"t": ""}]},
     "mark": {"type": "text"},
     "encoding": {
      "x": {"datum": 0, "type": "quantitative", "scale": {"domain": [0, 1], "range": [-61, 454]}, "axis": {"orient": "bottom", "domainColor": "#8c8c8c", "domainWidth": 1.5, "ticks": false, "labels": false}},
      "text": {"field": "t"}
     }
    }
   ]
  }
 ]
}
